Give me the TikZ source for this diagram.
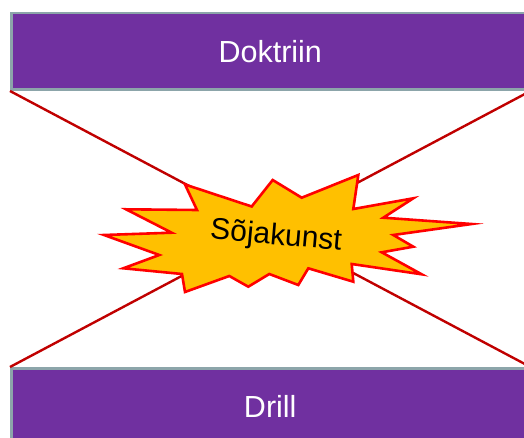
\documentclass[tikz,border=0pt]{standalone}
\usepackage{xcolor}
\usepackage{tikz}
\usepackage{fontspec}
\setmainfont{Liberation Sans}
\usetikzlibrary{shapes, arrows, positioning}

\definecolor{barpurple}{RGB}{112,48,160}
\definecolor{bargrey}{RGB}{140,165,170}
\definecolor{linered}{RGB}{192,0,0}
\definecolor{burstfill}{RGB}{255,192,0}

\begin{document}
\begin{tikzpicture}[x=1pt,y=-1pt]
        \path[use as bounding box, clip] (0,0) rectangle (524,438);
        \begin{scope}[every node/.style={draw=bargrey,line width=2.5pt,fill=barpurple,text=white,
            minimum width=518pt,minimum height=76.5pt,anchor=north west,inner sep=0pt,
            font=\fontsize{30.5}{33}\selectfont}]
          \node (doktriin) at (10,12) {Doktriin};
          \node (drill) at (10,367) {Drill};
        \end{scope}
        \begin{scope}[every edge/.style={draw=linered,line width=2.4pt}]
          \path (doktriin.south west) edge (drill.north east);
          \path (doktriin.south east) edge (drill.north west);
        \end{scope}
        % the burst
        \draw[draw=red,line width=2.6pt,fill=burstfill,line join=miter]
          (272.7,180) -- (301.7,197.7) -- (358.3,175) -- (353.3,209) -- (413.3,198.3)
          -- (383.3,217.7) -- (471.7,224) -- (393.3,235) -- (413.3,246.7) -- (381.7,252.3)
          -- (421.7,274.3) -- (351.7,264) -- (353.3,281.7) -- (308.3,268.3) -- (298.3,285)
          -- (269.3,274) -- (248.3,286.7) -- (229.3,276) -- (185,292) -- (182,274)
          -- (123.3,268.3) -- (159.3,255) -- (104,235) -- (171.7,232.7) -- (126,209.3)
          -- (197,210) -- (185,184.5) -- (251.7,206.5) -- cycle;
        \node[rotate=-5,font=\fontsize{30}{33}\selectfont] (sojakunst) at (276,237) {Sõjakunst};
      \end{tikzpicture}
\end{document}
